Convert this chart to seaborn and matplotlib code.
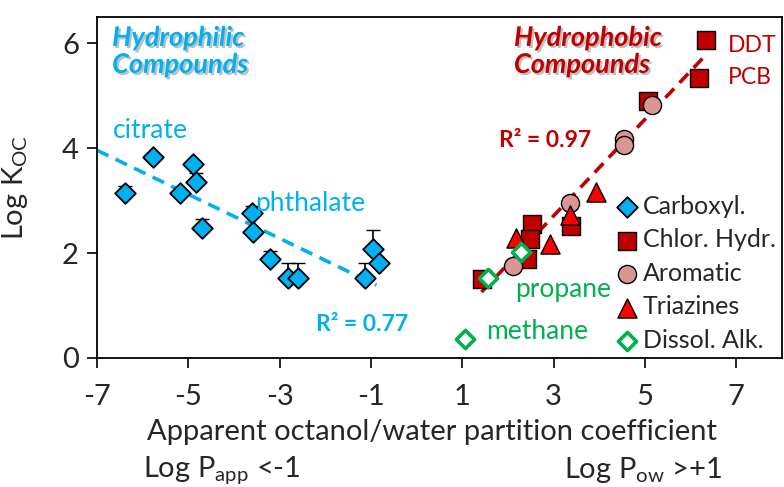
"""plot.py - Koc vs. octanol/water partition coefficient (seaborn recreation)"""
import numpy as np
import pandas as pd
import seaborn as sns
import matplotlib.pyplot as plt
import matplotlib.patheffects as pe

# --- data --------------------------------------------------------------------
carb_x = [-6.39, -5.78, -5.19, -4.90, -4.84, -4.71, -3.61, -3.59, -3.22,
          -2.82, -2.59, -1.13, -0.95, -0.82]
carb_y = [3.14, 3.83, 3.15, 3.69, 3.36, 2.48, 2.77, 2.41, 1.88,
          1.52, 1.52, 1.52, 2.07, 1.82]
carb_err = [0.13, 0.0, 0.0, 0.0, 0.16, 0.16, 0.13, 0.0, 0.15,
            0.29, 0.29, 0.29, 0.37, 0.0]

chlor_x = [6.33, 6.18, 5.06, 1.44, 2.52, 2.49, 2.42, 3.38]
chlor_y = [6.07, 5.34, 4.90, 1.50, 2.56, 2.26, 1.88, 2.51]

arom_x = [5.15, 4.54, 4.54, 3.36, 2.11]
arom_y = [4.82, 4.18, 4.06, 2.96, 1.75]

triaz_x = [3.92, 3.36, 2.17, 2.93]
triaz_y = [3.17, 2.72, 2.28, 2.18]

alk_x = [1.57, 2.29, 1.05]
alk_y = [1.53, 2.02, 0.36]

# linear fits shown in the original (intercept, slope, x range)
fit_phil = (1.02, -0.42, [-7.0, -0.88])
fit_phob = (-0.05, 0.92, [1.42, 6.35])

BLUE = "#00B0F0"
DRED = "#C00000"
RED = "#FF0000"
PINK = "#D99694"
GREEN = "#00B050"

sns.set_style("ticks")
plt.rcParams["font.family"] = ["Lato", "DejaVu Sans"]
plt.rcParams["mathtext.default"] = "regular"
plt.rcParams["axes.unicode_minus"] = False

fig = plt.figure(figsize=(7.84, 4.87), dpi=100)
ax = fig.add_axes([0.1237, 0.2649, 0.8737, 0.7002])

# fit lines
for (b, m, xr), col in [(fit_phil, BLUE), (fit_phob, DRED)]:
    xs = np.array(xr)
    sns.lineplot(x=xs, y=b + m * xs, ax=ax, color=col, lw=2.6,
                 dashes=False, linestyle=(0, (3.5, 2.2)), zorder=2)

ax.errorbar(carb_x, carb_y, yerr=[np.zeros(len(carb_err)), carb_err],
            fmt="none", ecolor="black", elinewidth=1.2, capsize=5, zorder=1)

groups = [
    ("Carboxyl.", carb_x, carb_y, "D", BLUE, "black", 110, 1.3),
    ("Chlor. Hydr.", chlor_x, chlor_y, "s", DRED, "black", 170, 1.0),
    ("Aromatic", arom_x, arom_y, "o", PINK, "black", 170, 1.0),
    ("Triazines", triaz_x, triaz_y, "^", RED, "black", 190, 1.0),
    ("Dissol. Alk.", alk_x, alk_y, "D", "white", GREEN, 85, 2.6),
]
for label, xs, ys, mk, fc, ec, size, lw in groups:
    df = pd.DataFrame({"x": xs, "y": ys})
    sns.scatterplot(data=df, x="x", y="y", ax=ax, marker=mk, color=fc,
                    edgecolor=ec, linewidth=lw, s=size, label=label, zorder=3)

ax.set_xlim(-7, 8)
ax.set_ylim(0, 6.5)
ax.set_xticks(range(-7, 8, 2))
ax.set_yticks([0, 2, 4, 6])
ax.tick_params(axis="both", labelsize=21, direction="out", length=7,
               width=1.2, color="black", pad=6)
ax.tick_params(axis="x", pad=12)
for s in ax.spines.values():
    s.set_color("black")
    s.set_linewidth(1.3)

ax.set_xlabel("")
ax.set_ylabel("Log K$_{OC}$", fontsize=21)
ax.yaxis.set_label_coords(-0.098, 0.5)

fig.text(432 / 784, 1 - 432 / 487, "Apparent octanol/water partition coefficient",
         ha="center", va="center", fontsize=21)
fig.text(143 / 784, 1 - 470 / 487, "Log P$_{app}$ <-1",
         ha="left", va="center", fontsize=21)
fig.text(722 / 784, 1 - 470 / 487, "Log P$_{ow}$ >+1",
         ha="right", va="center", fontsize=21)

shadow = [pe.SimplePatchShadow(offset=(1.5, -1.5), shadow_rgbFace="0.5", alpha=0.5),
          pe.Normal()]
ax.text(-6.67, 6.33, "Hydrophilic\nCompounds", color=BLUE, fontsize=19.5,
        fontweight="bold", fontstyle="italic", va="top", ha="left",
        linespacing=1.15, path_effects=shadow)
ax.text(2.13, 6.33, "Hydrophobic\nCompounds", color=DRED, fontsize=19.5,
        fontweight="bold", fontstyle="italic", va="top", ha="left",
        linespacing=1.15, path_effects=shadow)

ax.text(-6.65, 4.34, "citrate", color=BLUE, fontsize=19, va="center")
ax.text(-3.53, 2.95, "phthalate", color=BLUE, fontsize=19, va="center")
ax.text(-2.2, 0.63, "R² = 0.77", color=BLUE, fontsize=16.5, fontweight="bold", va="center")
ax.text(1.80, 4.15, "R² = 0.97", color=DRED, fontsize=16.5, fontweight="bold", va="center")
ax.text(2.15, 1.30, "propane", color=GREEN, fontsize=19, va="center")
ax.text(1.52, 0.50, "methane", color=GREEN, fontsize=19, va="center")
ax.text(6.82, 5.96, "DDT", color=DRED, fontsize=16.5, va="center")
ax.text(6.82, 5.35, "PCB", color=DRED, fontsize=16.5, va="center")

ax.legend(loc="upper left", bbox_to_anchor=(0.735, 0.515), frameon=False,
          fontsize=18, handletextpad=0.1, labelspacing=0.42, borderpad=0,
          handlelength=1.1)

fig.savefig("out.png", dpi=100)
